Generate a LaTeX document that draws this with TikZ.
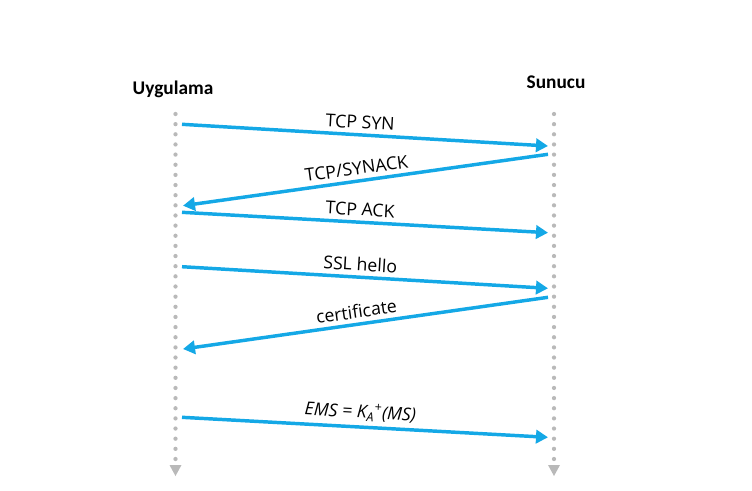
\documentclass[tikz,border=0pt]{standalone}
\usepackage{fontspec}
\setmainfont{Open Sans}
\newfontfamily\headfont{Carlito}
\usetikzlibrary{arrows.meta}
\definecolor{msgblue}{RGB}{20,168,230}
\definecolor{dotgray}{RGB}{185,185,185}

\begin{document}
\begin{tikzpicture}[x=0.75pt,y=-0.75pt,
  msg/.style={draw=msgblue, line width=2.6pt, -{Triangle[length=9pt,width=10pt]}},
  lbl/.style={above, sloped, font=\fontsize{13.3}{15}\selectfont},
  life/.style={draw=dotgray, line width=3.2pt, line cap=round, dash pattern=on 0pt off 7.61pt},
  head/.style={anchor=base, font=\headfont\bfseries\fontsize{14.5}{17}\selectfont}]
		\useasboundingbox (0,0) rectangle (752,490);
		% header names
		\node (app) [head] at (173,94) {Uygulama};
		\node (srv) [head] at (556,88) {Sunucu};
		% lifelines
		\coordinate (ut) at (175.5,114);
		\coordinate (ub) at (175.5,460);
		\coordinate (st) at (554,114);
		\coordinate (sb) at (554,460);
		\draw[life] (ut) -- (ub);
		\draw[life] (st) -- (sb);
		\fill[dotgray] (169.5,465) -- (181.5,465) -- (175.5,476) -- cycle;
		\fill[dotgray] (548,465) -- (560,465) -- (554,476) -- cycle;
		% message ends
		\coordinate (u1) at (182,124.3);
		\coordinate (s1) at (548,146);
		\coordinate (s2) at (548,154.3);
		\coordinate (u2) at (183,205.7);
		\coordinate (u3) at (182,212.3);
		\coordinate (s3) at (548,232.7);
		\coordinate (u4) at (182,266.7);
		\coordinate (s4) at (548,288.3);
		\coordinate (s5) at (548,297.3);
		\coordinate (u5) at (183,349);
		\coordinate (u6) at (182,417.3);
		\coordinate (s6) at (548,437.3);
		% messages
		\draw[msg] (u1) -- node[lbl, pos=.485] {TCP SYN} (s1);
		\draw[msg] (s2) -- node[lbl, pos=.52] {TCP/SYNACK} (u2);
		\draw[msg] (u3) -- node[lbl, pos=.485] {TCP ACK} (s3);
		\draw[msg] (u4) -- node[lbl, pos=.485] {SSL hello} (s4);
		\draw[msg] (s5) -- node[lbl, pos=.52] {certificate} (u5);
		\draw[msg] (u6) -- node[lbl, pos=.485] {\itshape EMS = K\textsubscript{A}\textsuperscript{+}(MS)} (s6);
\end{tikzpicture}
\end{document}
